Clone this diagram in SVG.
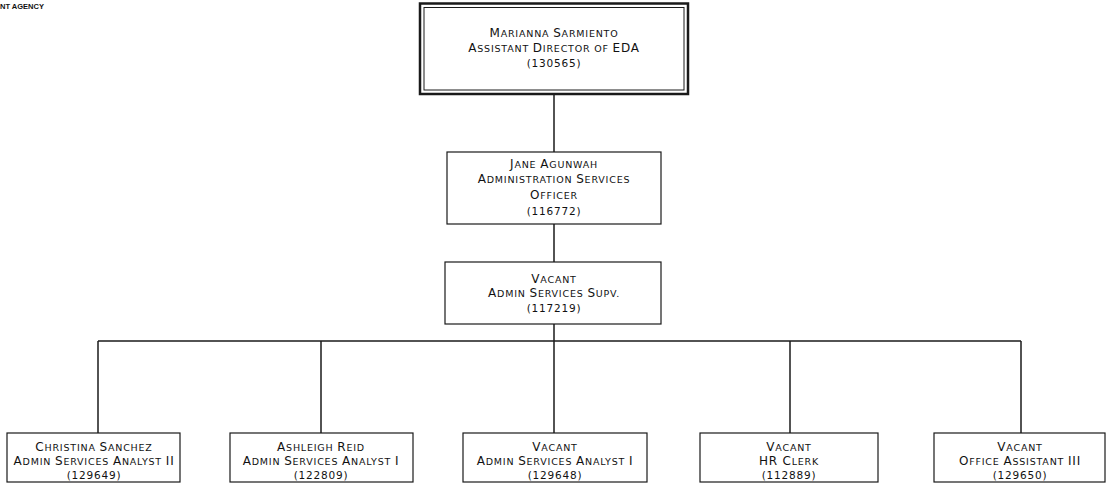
<svg xmlns="http://www.w3.org/2000/svg" width="1107" height="497" viewBox="0 0 1107 497">
<style>
.bg{fill:#ffffff}
.box{fill:#ffffff;stroke:#1a1a1a;stroke-width:1.2}
.outer{fill:#ffffff;stroke:#1a1a1a;stroke-width:2.5}
.inner{fill:none;stroke:#1a1a1a;stroke-width:1}
.lbl{font-family:"DejaVu Sans","Liberation Sans",Arial,sans-serif;font-size:9.5px;fill:#111;text-anchor:middle;letter-spacing:0.8px}
.c{font-size:12px}
.num{font-family:"DejaVu Sans","Liberation Sans",Arial,sans-serif;font-size:10.5px;fill:#111;text-anchor:middle;letter-spacing:0.8px}
.conn{stroke:#1a1a1a;stroke-width:1.5;fill:none}
.hdr{font-family:"Liberation Sans",Arial,sans-serif;font-size:7px;font-weight:bold;fill:#111}
</style>
<rect class="bg" x="0" y="0" width="1107" height="497"/>
<text class="hdr" x="0" y="9" textLength="44" lengthAdjust="spacingAndGlyphs">NT AGENCY</text>
<g id="connectors">
<line class="conn" x1="554" y1="94" x2="554" y2="152"/>
<line class="conn" x1="554" y1="224" x2="554" y2="262"/>
<line class="conn" x1="554" y1="324" x2="554" y2="341"/>
<line class="conn" x1="98" y1="341" x2="1021" y2="341"/>
<line class="conn" x1="98" y1="341" x2="98" y2="433"/>
<line class="conn" x1="321" y1="341" x2="321" y2="433"/>
<line class="conn" x1="554" y1="341" x2="554" y2="433"/>
<line class="conn" x1="790" y1="341" x2="790" y2="433"/>
<line class="conn" x1="1021" y1="341" x2="1021" y2="433"/>
</g>
<g id="n-director">
<rect class="outer" x="420" y="3.5" width="268" height="90.5"/>
<rect class="inner" x="424" y="7.5" width="260" height="82.5"/>
<text class="lbl" x="554" y="37"><tspan class="c">M</tspan>ARIANNA <tspan class="c">S</tspan>ARMIENTO</text>
<text class="lbl" x="554" y="52"><tspan class="c">A</tspan>SSISTANT <tspan class="c">D</tspan>IRECTOR OF <tspan class="c">EDA</tspan></text>
<text class="num" x="554" y="67">(130565)</text>
</g>
<g id="n-officer">
<rect class="box" x="447" y="152" width="214" height="72"/>
<text class="lbl" x="554" y="168"><tspan class="c">J</tspan>ANE <tspan class="c">A</tspan>GUNWAH</text>
<text class="lbl" x="554" y="183"><tspan class="c">A</tspan>DMINISTRATION <tspan class="c">S</tspan>ERVICES</text>
<text class="lbl" x="554" y="199"><tspan class="c">O</tspan>FFICER</text>
<text class="num" x="554" y="215">(116772)</text>
</g>
<g id="n-supv">
<rect class="box" x="445" y="262" width="216" height="62"/>
<text class="lbl" x="554" y="283"><tspan class="c">V</tspan>ACANT</text>
<text class="lbl" x="554" y="297"><tspan class="c">A</tspan>DMIN <tspan class="c">S</tspan>ERVICES <tspan class="c">S</tspan>UPV.</text>
<text class="num" x="554" y="312">(117219)</text>
</g>
<g id="n-sanchez">
<rect class="box" x="7" y="433" width="173" height="49"/>
<text class="lbl" x="94" y="451"><tspan class="c">C</tspan>HRISTINA <tspan class="c">S</tspan>ANCHEZ</text>
<text class="lbl" x="94" y="465"><tspan class="c">A</tspan>DMIN <tspan class="c">S</tspan>ERVICES <tspan class="c">A</tspan>NALYST <tspan class="c">II</tspan></text>
<text class="num" x="94" y="479">(129649)</text>
</g>
<g id="n-reid">
<rect class="box" x="230" y="433" width="183" height="49"/>
<text class="lbl" x="321" y="451"><tspan class="c">A</tspan>SHLEIGH <tspan class="c">R</tspan>EID</text>
<text class="lbl" x="321" y="465"><tspan class="c">A</tspan>DMIN <tspan class="c">S</tspan>ERVICES <tspan class="c">A</tspan>NALYST <tspan class="c">I</tspan></text>
<text class="num" x="321" y="479">(122809)</text>
</g>
<g id="n-analyst">
<rect class="box" x="463" y="433" width="184" height="49"/>
<text class="lbl" x="555" y="451"><tspan class="c">V</tspan>ACANT</text>
<text class="lbl" x="555" y="465"><tspan class="c">A</tspan>DMIN <tspan class="c">S</tspan>ERVICES <tspan class="c">A</tspan>NALYST <tspan class="c">I</tspan></text>
<text class="num" x="555" y="479">(129648)</text>
</g>
<g id="n-hrclerk">
<rect class="box" x="700" y="433" width="178" height="49"/>
<text class="lbl" x="789" y="451"><tspan class="c">V</tspan>ACANT</text>
<text class="lbl" x="789" y="465"><tspan class="c">HR C</tspan>LERK</text>
<text class="num" x="789" y="479">(112889)</text>
</g>
<g id="n-office">
<rect class="box" x="934" y="433" width="171" height="49"/>
<text class="lbl" x="1020" y="451"><tspan class="c">V</tspan>ACANT</text>
<text class="lbl" x="1020" y="465"><tspan class="c">O</tspan>FFICE <tspan class="c">A</tspan>SSISTANT  <tspan class="c">III</tspan></text>
<text class="num" x="1020" y="479">(129650)</text>
</g>
</svg>
